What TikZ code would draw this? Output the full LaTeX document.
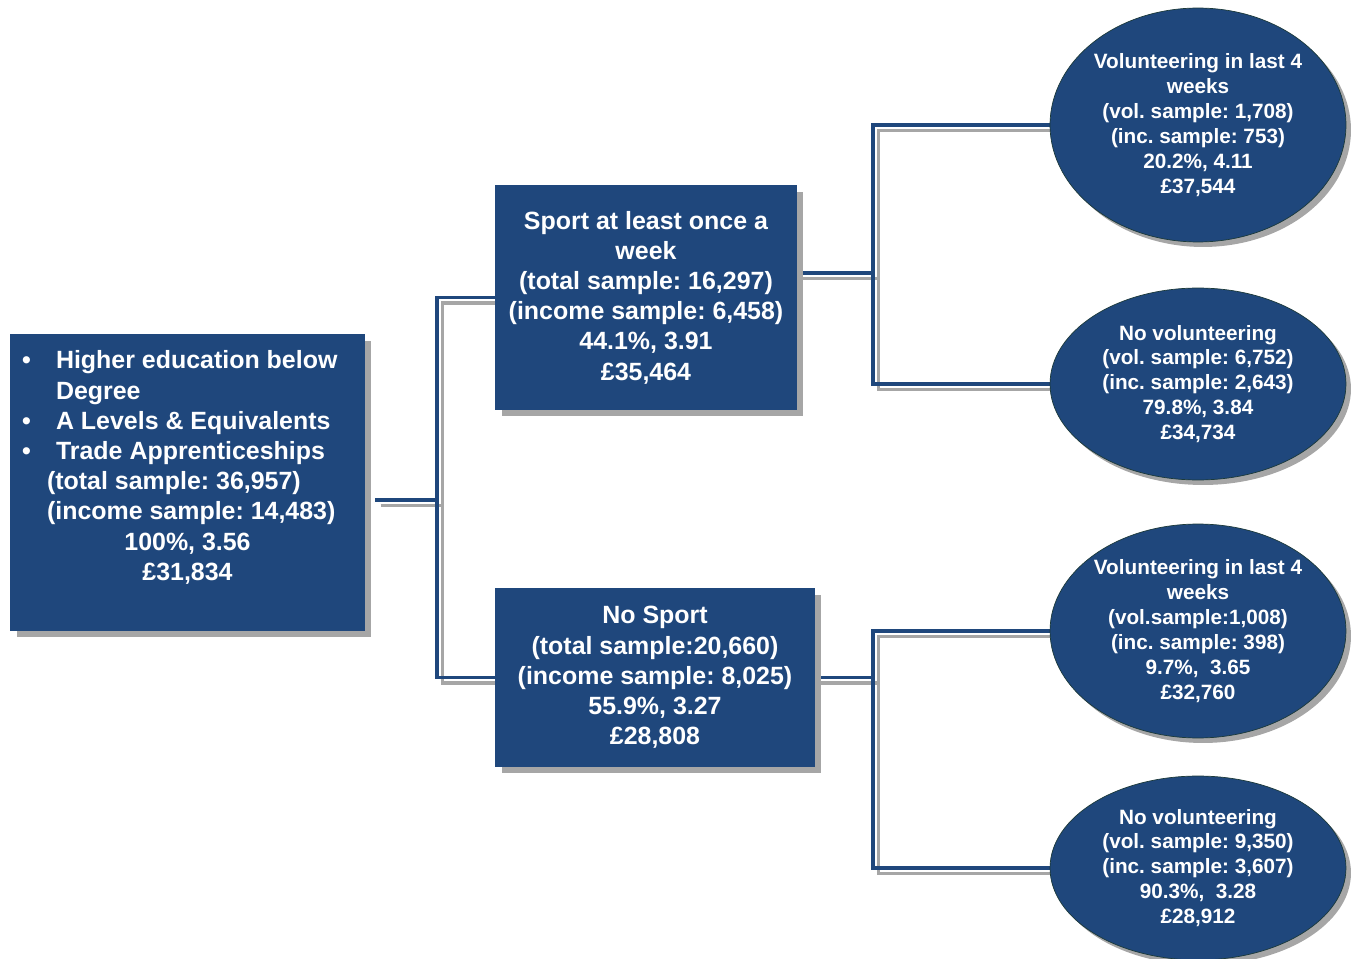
\documentclass[tikz,border=0pt]{standalone}
\usepackage{fontspec}
\setmainfont{Liberation Sans}
\usetikzlibrary{shapes.geometric,shadows,backgrounds}
\definecolor{navy}{RGB}{31,71,124}
\definecolor{linegray}{RGB}{166,166,166}
\definecolor{rim}{RGB}{28,58,58}
\frenchspacing

\begin{document}
\begin{tikzpicture}[x=0.02cm, y=-0.02cm,
    block/.style={rectangle, fill=navy, text=white, align=center, inner sep=0pt,
        font=\bfseries\fontsize{14.2}{17.2}\selectfont,
        drop shadow={shadow xshift=0.13cm, shadow yshift=-0.13cm, fill=linegray, opacity=1}},
    bubble/.style={ellipse, fill=navy, draw=rim, line width=0.4pt, text=white, align=center,
        inner sep=0pt, minimum width=5.92cm,
        font=\bfseries\fontsize{11.8}{14.2}\selectfont,
        drop shadow={shadow xshift=0.1cm, shadow yshift=-0.1cm, fill=linegray, opacity=1}},
    link/.style={line width=0.075cm}]
            \useasboundingbox (0,0) rectangle (1359,959);

            % Whole sample (left)
            \node[block, minimum width=7.1cm, minimum height=5.94cm] (edu) at (187.5,482.5) {\parbox{6.62cm}{\raggedright
                \makebox[0.68cm][l]{\textbullet}Higher education below\\
                \hspace*{0.68cm}Degree\\
                \makebox[0.68cm][l]{\textbullet}A Levels \& Equivalents\\
                \makebox[0.68cm][l]{\textbullet}Trade Apprenticeships\\
                \hspace*{0.5cm}(total sample: 36,957)\\
                \hspace*{0.5cm}(income sample: 14,483)\\
                \makebox[\linewidth]{100\%, 3.56}\\
                \makebox[\linewidth]{£31,834}\par\vspace*{0.6cm}}};

            % Sport split
            \node[block, minimum width=6.04cm, minimum height=4.5cm] (sport) at (646,297.5) {Sport at least once a\\week\\(total sample: 16,297)\\(income sample: 6,458)\\44.1\%, 3.91\\£35,464};
            \node[block, minimum width=6.4cm, minimum height=3.58cm] (nosport) at (655,677.5) {No Sport\\(total sample:20,660)\\(income sample: 8,025)\\55.9\%, 3.27\\£28,808};

            % Volunteering split
            \node[bubble, minimum height=4.68cm] (vol1) at (1198,125) {Volunteering in last 4\\weeks\\(vol. sample: 1,708)\\(inc. sample: 753)\\20.2\%, 4.11\\£37,544};
            \node[bubble, minimum height=3.84cm] (novol1) at (1198,384) {No volunteering\\(vol. sample: 6,752)\\(inc. sample: 2,643)\\79.8\%, 3.84\\£34,734};
            \node[bubble, minimum height=4.28cm] (vol2) at (1198,631) {Volunteering in last 4\\weeks\\(vol.sample:1,008)\\(inc. sample: 398)\\9.7\%,\ \ 3.65\\£32,760};
            \node[bubble, minimum height=3.68cm] (novol2) at (1198,868) {No volunteering\\(vol. sample: 9,350)\\(inc. sample: 3,607)\\90.3\%,\ \ 3.28\\£28,912};

            % Junctions
            \coordinate (stubL) at (375,500);
            \coordinate (jl) at (437,500);
            \coordinate (jt) at (873,273);
            \coordinate (jb) at (873,677.5);

            % Connectors, gray copy first then blue
            \begin{scope}[on background layer]
            \foreach \col/\off in {linegray/0.11, navy/0}{
                \begin{scope}[transform canvas={shift={(\off cm,-\off cm)}}]
                \draw[link, draw=\col] (stubL) -- (jl);
                \draw[link, draw=\col] (sport.west) -| (jl) |- (nosport.west);
                \draw[link, draw=\col] (sport.east |- jt) -- (jt);
                \draw[link, draw=\col] (vol1.west) -| (jt) |- (novol1.west);
                \draw[link, draw=\col] (nosport.east) -- (jb);
                \draw[link, draw=\col] (vol2.west) -| (jb) |- (novol2.west);
                \end{scope}
            }
            \end{scope}
        \end{tikzpicture}
\end{document}
